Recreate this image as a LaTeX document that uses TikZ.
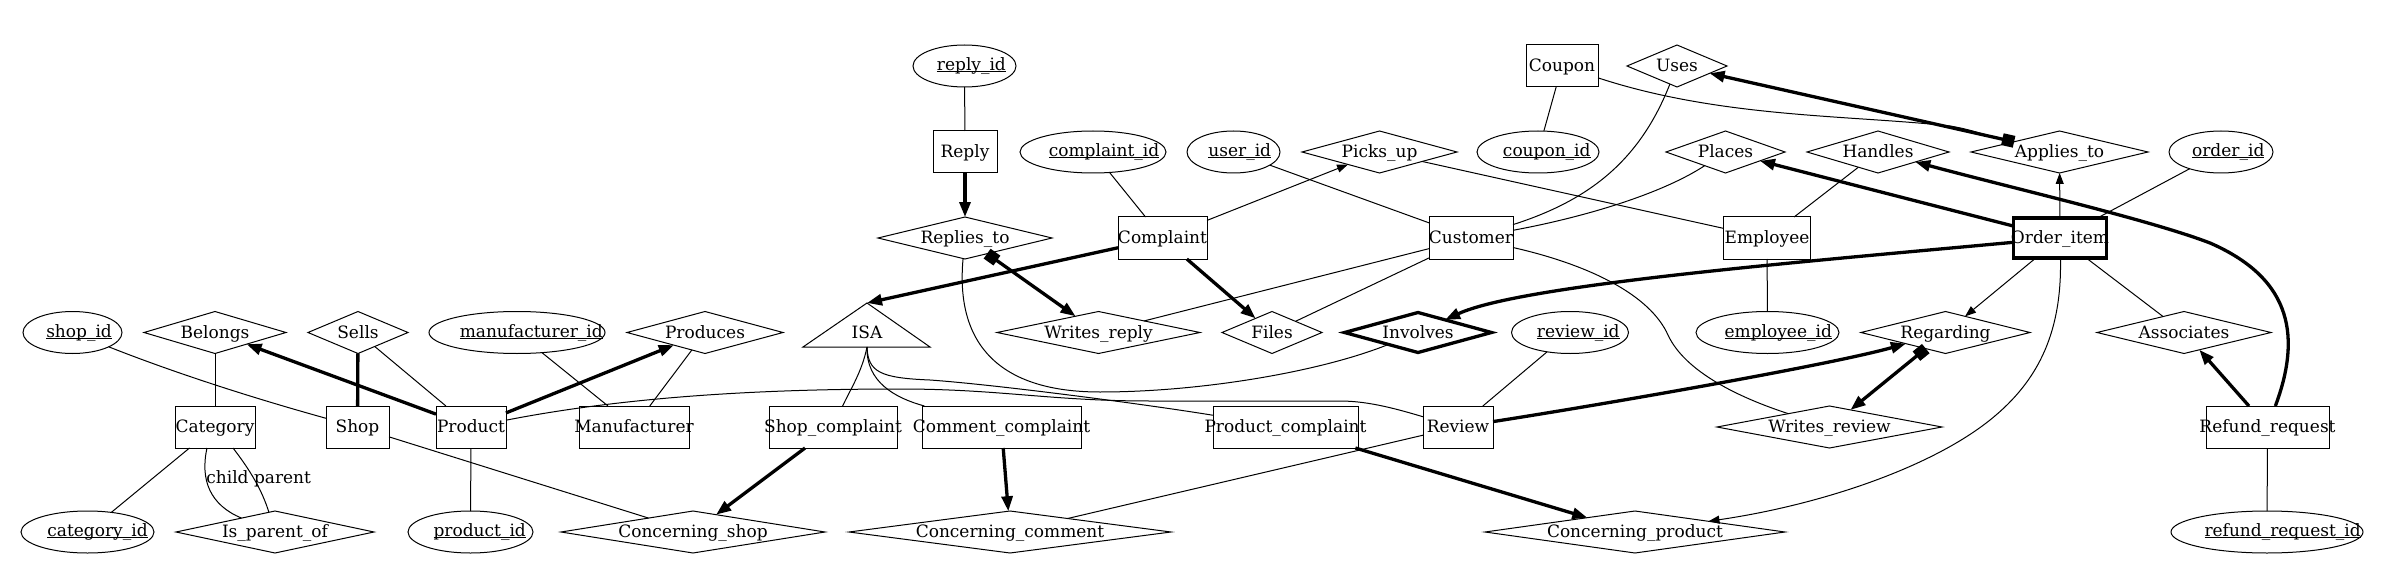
\documentclass[tikz,border=0pt]{standalone}
\usepackage{fontspec}
\setmainfont{DejaVu Serif}
\usetikzlibrary{shapes.geometric,arrows.meta}
\newcommand{\keyattr}[1]{\setbox0=\hbox{#1}\hspace*{0.2\wd0}\rlap{\rule[-1.7bp]{\wd0}{0.9bp}}\box0}
\newcommand{\ctr}[1]{\makebox[0pt]{#1}}
\tikzset{
  ent/.style={draw, rectangle, line width=1bp, minimum height=42bp, inner sep=0pt, outer sep=0pt, text height=12bp, text depth=0.6bp},
  rel/.style={draw, diamond, line width=1bp, minimum height=42bp, inner sep=0pt, outer sep=0pt, text height=12bp, text depth=0.6bp},
  att/.style={draw, ellipse, line width=1bp, minimum height=42bp, inner sep=0pt, outer sep=0pt, text height=10bp, text depth=1bp},
  lbl/.style={inner sep=0pt, text height=12bp, text depth=0.6bp},
  heavy/.style={line width=3.3bp},
  arr/.style={-{Triangle[length=11bp,width=8bp]}},
  harr/.style={heavy, -{Triangle[length=15bp,width=11bp]}},
  boxarr/.style={heavy, {Square[length=12bp,width=12bp]}-{Triangle[length=15bp,width=11bp]}},
}
\begin{document}
\begin{tikzpicture}[x=1bp, y=-1bp, line width=1bp, font=\fontsize{17bp}{20bp}\selectfont]
\useasboundingbox (0,0) rectangle (2384,583);
% ---------- row A
\node[att, minimum width=103bp] (reply_id) at (964.5,66) {\ctr{\keyattr{reply\_id}}};
\node[ent, minimum width=72bp] (Coupon) at (1562,66) {\ctr{Coupon}};
\node[rel, minimum width=100bp] (Uses) at (1677,66) {\ctr{Uses}};
% ---------- row B
\node[ent, minimum width=64bp] (Reply) at (965,152) {\ctr{Reply}};
\node[att, minimum width=146bp] (complaint_id) at (1093,152) {\ctr{\keyattr{complaint\_id}}};
\node[att, minimum width=93bp] (user_id) at (1233.5,152) {\ctr{\keyattr{user\_id}}};
\node[rel, minimum width=155bp] (Picks_up) at (1379.5,152) {\ctr{Picks\_up}};
\node[att, minimum width=122bp] (coupon_id) at (1538,152) {\ctr{\keyattr{coupon\_id}}};
\node[rel, minimum width=119bp] (Places) at (1725.5,152) {\ctr{Places}};
\node[rel, minimum width=142bp] (Handles) at (1878,152) {\ctr{Handles}};
\node[rel, minimum width=177bp] (Applies_to) at (2059.5,152) {\ctr{Applies\_to}};
\node[att, minimum width=104bp] (order_id) at (2221,152) {\ctr{\keyattr{order\_id}}};
% ---------- row C
\node[rel, minimum width=174bp] (Replies_to) at (965,238) {\ctr{Replies\_to}};
\node[ent, minimum width=89bp] (Complaint) at (1162.5,238) {\ctr{Complaint}};
\node[ent, minimum width=84bp] (Customer) at (1471,238) {\ctr{Customer}};
\node[ent, minimum width=87bp] (Employee) at (1767,238) {\ctr{Employee}};
\node[ent, line width=3.3bp, minimum width=93bp, minimum height=40bp] (Order_item) at (2060,238) {\ctr{Order\_item}};
% ---------- row D
\node[att, minimum width=99bp] (shop_id) at (72.5,332.5) {\ctr{\keyattr{shop\_id}}};
\node[rel, minimum width=142bp] (Belongs) at (215,332.5) {\ctr{Belongs}};
\node[rel, minimum width=100bp] (Sells) at (358,332.5) {\ctr{Sells}};
\node[att, minimum width=176bp] (manufacturer_id) at (517,332.5) {\ctr{\keyattr{manufacturer\_id}}};
\node[rel, minimum width=156bp] (Produces) at (705,332.5) {\ctr{Produces}};
\coordinate (ISAt) at (867,303);
\coordinate (ISAl) at (803,347);
\coordinate (ISAr) at (930,347);
\coordinate (ISAb) at (867,347);
\draw (ISAt) -- (ISAl) -- (ISAr) -- cycle;
\node[lbl] (ISA) at (867,333) {ISA};
\node[rel, minimum width=203bp] (Writes_reply) at (1098.5,332.5) {\ctr{Writes\_reply}};
\node[rel, minimum width=100bp] (Files) at (1272,332.5) {\ctr{Files}};
\node[rel, line width=3.3bp, minimum width=147bp, minimum height=40bp] (Involves) at (1418,332.5) {\ctr{Involves}};
\node[att, minimum width=117bp] (review_id) at (1570,332.5) {\ctr{\keyattr{review\_id}}};
\node[att, minimum width=143bp] (employee_id) at (1767.5,332.5) {\ctr{\keyattr{employee\_id}}};
\node[rel, minimum width=169bp] (Regarding) at (1945.5,332.5) {\ctr{Regarding}};
\node[rel, minimum width=174bp] (Associates) at (2184,332.5) {\ctr{Associates}};
% ---------- row E
\node[ent, minimum width=80bp] (Category) at (215,427) {\ctr{Category}};
\node[ent, minimum width=63bp] (Shop) at (357.5,427) {\ctr{Shop}};
\node[ent, minimum width=70bp] (Product) at (471,427) {\ctr{Product}};
\node[ent, minimum width=110bp] (Manufacturer) at (634,427) {\ctr{Manufacturer}};
\node[ent, minimum width=128bp] (Shop_complaint) at (833,427) {\ctr{Shop\_complaint}};
\node[ent, minimum width=159bp] (Comment_complaint) at (1001.5,427) {\ctr{Comment\_complaint}};
\node[ent, minimum width=145bp] (Product_complaint) at (1285.5,427) {\ctr{Product\_complaint}};
\node[ent, minimum width=70bp] (Review) at (1458,427) {\ctr{Review}};
\node[rel, minimum width=225bp] (Writes_review) at (1829.5,427) {\ctr{Writes\_review}};
\node[ent, minimum width=123bp] (Refund_request) at (2267.5,427) {\ctr{Refund\_request}};
% ---------- row F
\node[att, minimum width=133bp] (category_id) at (87.5,532) {\ctr{\keyattr{category\_id}}};
\node[rel, minimum width=198bp] (Is_parent_of) at (275,532) {\ctr{Is\_parent\_of}};
\node[att, minimum width=125bp] (product_id) at (470.5,532) {\ctr{\keyattr{product\_id}}};
\node[rel, minimum width=264bp] (Concerning_shop) at (693,532) {\ctr{Concerning\_shop}};
\node[rel, minimum width=322bp] (Concerning_comment) at (1010,532) {\ctr{Concerning\_comment}};
\node[rel, minimum width=300bp] (Concerning_product) at (1635,532) {\ctr{Concerning\_product}};
\node[att, minimum width=192bp] (refund_request_id) at (2267,532) {\ctr{\keyattr{refund\_request\_id}}};
% ---------- connectors
\draw (reply_id) -- (Reply);
\draw[harr] (Reply) -- (Replies_to);
\draw[boxarr] (Replies_to) -- (Writes_reply);
\draw (complaint_id) -- (Complaint);
\draw[arr] (Complaint) -- (Picks_up);
\draw[harr] (Complaint) -- (ISAt);
\draw[harr] (Complaint) -- (Files);
\draw (user_id) -- (Customer);
\draw (Writes_reply) -- (Customer);
\draw (Files) -- (Customer);
\draw (Picks_up) -- (Employee);
\draw (Coupon) -- (coupon_id);
\draw (Coupon) .. controls (1720,118) and (1850,115) .. (1950,126) .. controls (1975,130) and (1992,138) .. (Applies_to);
\draw (Uses) .. controls (1640,160) and (1590,200) .. (Customer);
\draw (Places) .. controls (1660,195) and (1580,218) .. (Customer);
\draw[boxarr] (Applies_to) -- (Uses);
\draw (Handles) -- (Employee);
\draw (Employee) -- (employee_id);
\draw[harr] (Order_item) -- (Places);
\draw[harr] (Refund_request) .. controls (2300,340) and (2295,280) .. (2210,243) .. controls (2150,220) and (2020,190) .. (Handles);
\draw[arr] (Order_item) -- (Applies_to);
\draw (order_id) -- (Order_item);
\draw[harr] (Order_item) .. controls (1800,262) and (1520,285) .. (Involves);
\draw[arr] (Order_item) -- (Regarding);
\draw (Order_item) -- (Associates);
\draw[arr] (Order_item) .. controls (2062,330) and (2040,380) .. (1990,420) .. controls (1930,468) and (1820,505) .. (Concerning_product);
\draw[harr] (Refund_request) -- (Associates);
\draw (Refund_request) -- (refund_request_id);
\draw (review_id) -- (Review);
\draw[harr] (Review) .. controls (1600,405) and (1830,365) .. (Regarding);
\draw[boxarr] (Regarding) -- (Writes_review);
\draw (Customer) .. controls (1590,265) and (1650,295) .. (1668,335) .. controls (1685,372) and (1740,398) .. (Writes_review);
\draw (Review) -- (Concerning_comment);
\draw[harr] (Product_complaint) -- (Concerning_product);
\draw[harr] (Comment_complaint) -- (Concerning_comment);
\draw[harr] (Shop_complaint) -- (Concerning_shop);
\draw (Shop) -- (Concerning_shop);
\draw (ISAb) .. controls (862,372) and (850,390) .. (Shop_complaint);
\draw (ISAb) .. controls (866,382) and (895,398) .. (Comment_complaint);
\draw (ISAb) .. controls (868,372) and (880,378) .. (930,380) .. controls (1000,385) and (1150,405) .. (Product_complaint);
\draw (Replies_to) .. controls (955,345) and (1000,392) .. (1100,392) .. controls (1200,392) and (1320,372) .. (Involves);
\draw (Product) .. controls (620,398) and (750,389) .. (900,389) .. controls (1000,389) and (1050,401) .. (1150,401) -- (1340,401) .. controls (1370,401) and (1400,410) .. (Review);
\draw (shop_id) .. controls (180,375) and (260,400) .. (Shop);
\draw (Belongs) -- (Category);
\draw[harr] (Product) -- (Belongs);
\draw[heavy] (Sells) -- (Shop);
\draw (Sells) -- (Product);
\draw (Category) -- (category_id);
\draw ([xshift=-8bp]Category.south) .. controls (200,480) and (210,505) .. (Is_parent_of);
\draw ([xshift=18bp]Category.south) .. controls (250,470) and (262,490) .. (Is_parent_of);
\node[lbl] (lchild) at (227.5,478) {child};
\node[lbl] (lparent) at (282.5,478) {parent};
\draw (manufacturer_id) -- (Manufacturer);
\draw[harr] (Product) -- (Produces);
\draw (Produces) -- (Manufacturer);
\draw (Product) -- (product_id);
\end{tikzpicture}
\end{document}
